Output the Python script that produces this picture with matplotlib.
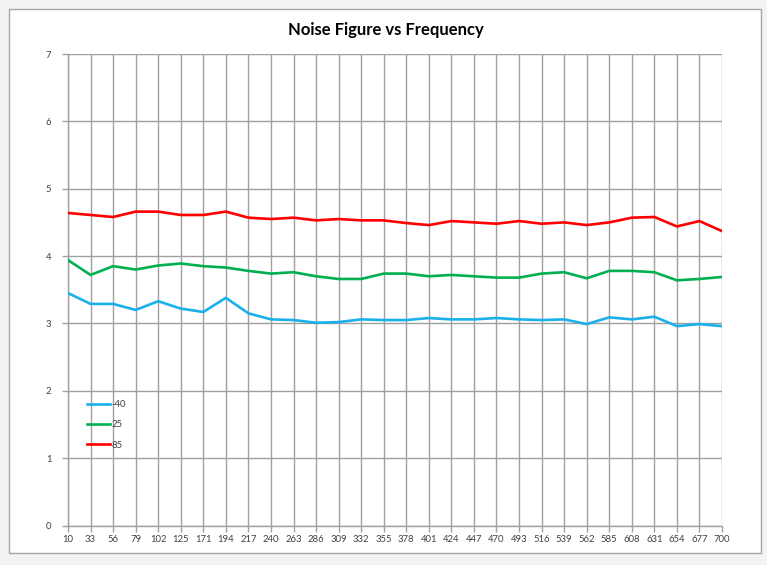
import matplotlib
matplotlib.use("Agg")
import matplotlib.pyplot as plt
from matplotlib.patches import Rectangle
import numpy as np

plt.rcParams['font.family'] = ['Lato', 'DejaVu Sans']

# frequency categories (148 is not in the data)
freqs = [10, 33, 56, 79, 102, 125, 171, 194, 217, 240, 263, 286, 309, 332, 355,
         378, 401, 424, 447, 470, 493, 516, 539, 562, 585, 608, 631, 654, 677, 700]

nf_m40 = [3.45, 3.29, 3.29, 3.20, 3.33, 3.22, 3.17, 3.38, 3.15, 3.06, 3.05, 3.01, 3.02, 3.06, 3.05,
          3.05, 3.08, 3.06, 3.06, 3.08, 3.06, 3.05, 3.06, 2.99, 3.09, 3.06, 3.10, 2.96, 2.99, 2.96]
nf_25 = [3.94, 3.72, 3.85, 3.80, 3.86, 3.89, 3.85, 3.83, 3.78, 3.74, 3.76, 3.70, 3.66, 3.66, 3.74,
         3.74, 3.70, 3.72, 3.70, 3.68, 3.68, 3.74, 3.76, 3.67, 3.78, 3.78, 3.76, 3.64, 3.66, 3.69]
nf_85 = [4.64, 4.61, 4.58, 4.66, 4.66, 4.61, 4.61, 4.66, 4.57, 4.55, 4.57, 4.53, 4.55, 4.53, 4.53,
         4.49, 4.46, 4.52, 4.50, 4.48, 4.52, 4.48, 4.50, 4.46, 4.50, 4.57, 4.58, 4.44, 4.52, 4.37]

series_labels = ['-40', '25', '85']
series_colors = ['#1ab0ec', '#00b050', '#ff0000']

fig = plt.figure(figsize=(7.67, 5.65), dpi=100)
fig.patch.set_facecolor('#f3f3f3')
# white chart area with grey border
fig.patches.append(Rectangle((9 / 767, 12 / 565), 752 / 767, 544 / 565,
                             transform=fig.transFigure, facecolor='white',
                             edgecolor='#a6a6a6', linewidth=1.0, zorder=-10))

ax = fig.add_axes([68 / 767, (565 - 525.5) / 565, 654 / 767, 471.5 / 565])
ax.set_zorder(5)
ax.set_facecolor('white')
x = np.arange(len(freqs))

for vals, lab, col in zip([nf_m40, nf_25, nf_85], series_labels, series_colors):
    ax.plot(x, vals, color=col, lw=1.9, label=lab, zorder=3)

ax.set_xlim(0, len(freqs) - 1)
ax.set_ylim(0, 7)
ax.set_xticks(x)
ax.set_xticklabels([str(f) for f in freqs])
ax.set_yticks(range(8))

ax.grid(True, color='#a0a0a0', linewidth=1.0, zorder=1)
for s in ['top', 'right']:
    ax.spines[s].set_visible(False)
for s in ['left', 'bottom']:
    ax.spines[s].set_color('#a0a0a0')
    ax.spines[s].set_linewidth(1.0)
ax.tick_params(axis='both', colors='#a0a0a0', labelcolor='#404040', labelsize=6.8,
               length=4, width=1.0)
ax.tick_params(axis='y', pad=8)
ax.tick_params(axis='x', pad=3)

fig.text(386 / 767, 1 - 30 / 565, 'Noise Figure vs Frequency', ha='center', va='center',
         fontsize=12, fontweight='bold', color='#000000')

leg = ax.legend(loc='upper left', bbox_to_anchor=(0.024, 0.274), frameon=False,
                fontsize=6.8, handlelength=2.4, handletextpad=0.1, labelspacing=1.2,
                borderaxespad=0)
for t in leg.get_texts():
    t.set_color('#404040')

fig.savefig('out.png', dpi=100, facecolor=fig.get_facecolor())
